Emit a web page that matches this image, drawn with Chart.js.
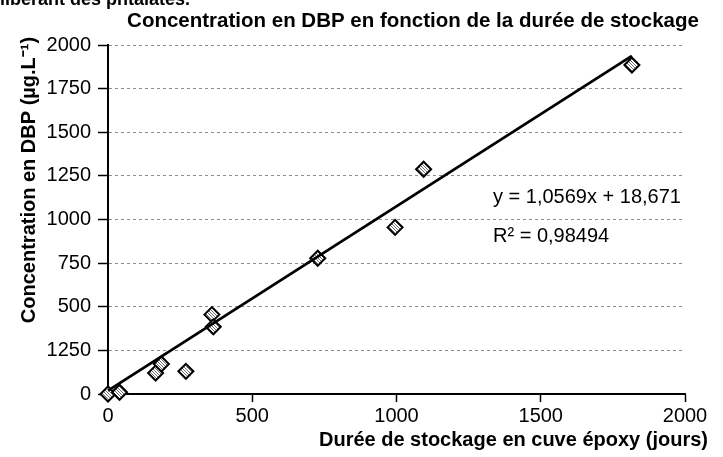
<!DOCTYPE html>
<html>
<head>
<meta charset="utf-8">
<script src="https://cdn.jsdelivr.net/npm/chart.js@4"></script>
<style>
  html, body { margin: 0; padding: 0; background: #fff; }
  #wrap { width: 723px; height: 457px; }
</style>
</head>
<body>
<div id="wrap"><canvas id="myChart" width="723" height="457"></canvas></div>
<script>
'use strict'
// values
const storageDays = [0, 40, 165, 185, 270, 360, 365, 727, 995, 1094, 1816]
const dbpConc = [0, 10, 120, 172, 130, 455, 385, 778, 955, 1288, 1885]
// trend line end points (y = 1,0569x + 18,671)
const trendDays = [0, 1816]
const trendConc = [19, 1938]
const yTickValues = [0, 250, 500, 750, 1000, 1250, 1500, 1750, 2000]
const yTickLabels = ['0', '1250', '500', '750', '1000', '1250', '1500', '1750', '2000']
const xTickValues = [0, 500, 1000, 1500, 2000]
const xTickLabels = ['0', '500', '1000', '1500', '2000']
const titleText = 'Concentration en DBP en fonction de la durée de stockage'
const xTitle = 'Durée de stockage en cuve époxy (jours)'
const yTitle = 'Concentration en DBP (µg.L⁻¹)'
const eqLine1 = 'y = 1,0569x + 18,671'
const eqLine2 = 'R² = 0,98494'

const fontName = "'Liberation Sans', Arial, sans-serif"

// hatched fill for the diamonds
const pat = document.createElement('canvas')
pat.width = 3
pat.height = 3
const pc = pat.getContext('2d')
pc.fillStyle = '#fff'
pc.fillRect(0, 0, 3, 3)
pc.fillStyle = '#6e6e6e'
for (let i = 0; i < 3; i++) pc.fillRect(i, i, 1, 1)
const hatch = pc.createPattern(pat, 'repeat')

const points = storageDays.map((d, i) => ({ x: d, y: dbpConc[i] }))
const trend = trendDays.map((d, i) => ({ x: d, y: trendConc[i] }))

const textPlugin = {
    id: 'texts',
    afterDraw(chart) {
        const ctx = chart.ctx
        ctx.save()
        ctx.fillStyle = '#000'
        ctx.font = 'bold 18px ' + fontName
        ctx.textAlign = 'left'
        ctx.textBaseline = 'alphabetic'
        ctx.fillText('libérant des phtalates.', 0, 5)
        ctx.font = 'bold 20.5px ' + fontName
        ctx.textAlign = 'center'
        ctx.textBaseline = 'middle'
        ctx.fillText(titleText, 413, 21)
        ctx.font = 'bold 20px ' + fontName
        ctx.textAlign = 'right'
        ctx.fillText(xTitle, 708, 440)
        ctx.font = '20px ' + fontName
        ctx.textAlign = 'left'
        ctx.fillText(eqLine1, 493, 197)
        ctx.fillText(eqLine2, 493, 236)
        ctx.font = 'bold 20px ' + fontName
        ctx.translate(29, 180)
        ctx.rotate(-Math.PI / 2)
        ctx.textAlign = 'center'
        ctx.fillText(yTitle, 0, 0)
        ctx.restore()
    }
}

const config = {
    type: 'scatter',
    data: {
        datasets: [
            {
                data: trend,
                type: 'line',
                showLine: true,
                borderColor: '#000',
                borderWidth: 2.8,
                pointRadius: 0,
                order: 0
            },
            {
                data: points,
                pointStyle: 'rectRot',
                pointRadius: 7.5,
                backgroundColor: hatch,
                borderColor: '#000',
                borderWidth: 2,
                clip: false,
                order: 1
            }
        ]
    },
    options: {
        responsive: false,
        animation: false,
        devicePixelRatio: 1,
        layout: { padding: { left: 0, right: 38, top: 45, bottom: 0 } },
        plugins: { legend: { display: false }, tooltip: { enabled: false } },
        scales: {
            x: {
                type: 'linear',
                min: 0,
                max: 2000,
                afterBuildTicks: s => { s.ticks = xTickValues.map(v => ({ value: v })) },
                afterFit: s => { s.height = 63 },
                ticks: {
                    color: '#000',
                    font: { family: fontName, size: 20 },
                    padding: 2,
                    maxRotation: 0,
                    callback: v => xTickLabels[xTickValues.indexOf(v)]
                },
                grid: { drawOnChartArea: false, tickColor: '#000', tickLength: 8, tickWidth: 1.5 },
                border: { color: '#000', width: 2 }
            },
            y: {
                type: 'linear',
                min: 0,
                max: 2000,
                afterBuildTicks: s => { s.ticks = yTickValues.map(v => ({ value: v })) },
                afterFit: s => { s.width = 108 },
                ticks: {
                    color: '#000',
                    font: { family: fontName, size: 20 },
                    padding: 7,
                    callback: v => yTickLabels[yTickValues.indexOf(v)]
                },
                grid: { color: '#8c8c8c', lineWidth: 1, tickColor: '#000', tickLength: 10, tickWidth: 1.5 },
                border: { color: '#000', width: 2, dash: [3, 3] }
            }
        }
    },
    plugins: [textPlugin]
}

const myChart = new Chart(document.getElementById('myChart'), config)
</script>
</body>
</html>
